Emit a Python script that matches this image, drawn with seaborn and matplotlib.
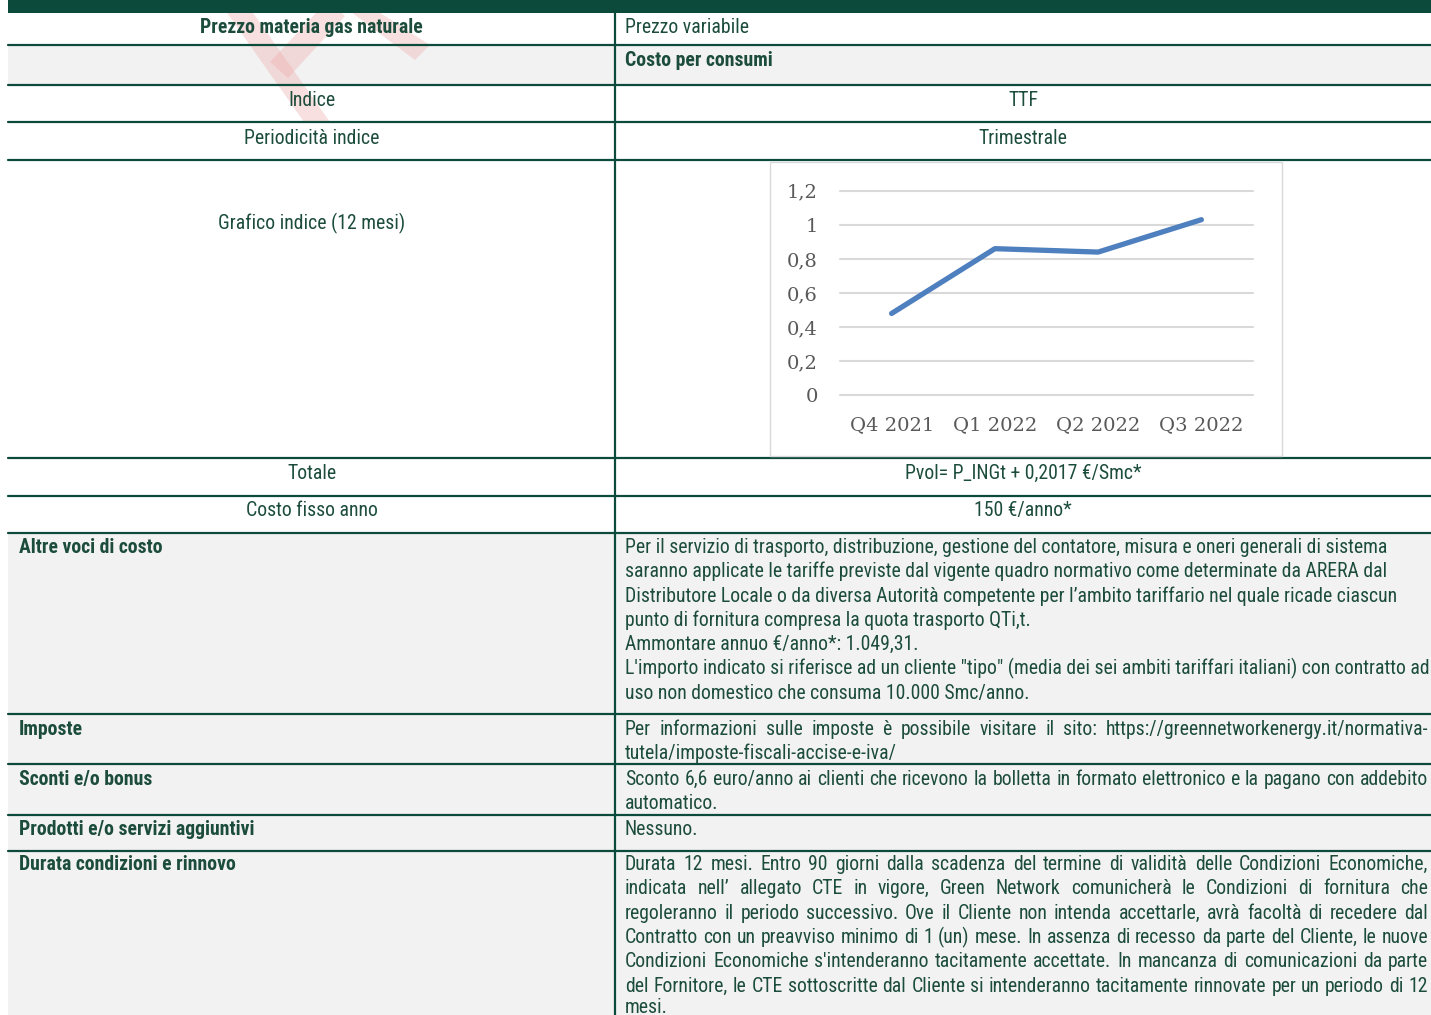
import matplotlib
matplotlib.use("Agg")
import matplotlib.pyplot as plt
from matplotlib import font_manager as fm
from matplotlib.patches import Rectangle, Polygon
import seaborn as sns
import pandas as pd

# index chart (TTF, quarterly)
quarters = ["Q4 2021", "Q1 2022", "Q2 2022", "Q3 2022"]
ttf_values = [0.48, 0.86, 0.84, 1.03]
y_ticks = [0, 0.2, 0.4, 0.6, 0.8, 1.0, 1.2]
y_tick_labels = ["0", "0,2", "0,4", "0,6", "0,8", "1", "1,2"]

# table text
centre_left = ["Indice", "Periodicità indice", "Grafico indice (12 mesi)", "Totale", "Costo fisso anno"]
centre_right = ["TTF", "Trimestrale", "", "Pvol= P_INGt + 0,2017 €/Smc*", "150 €/anno*"]
bold_left = ["Altre voci di costo", "Imposte", "Sconti e/o bonus",
             "Prodotti e/o servizi aggiuntivi", "Durata condizioni e rinnovo"]
altre_voci = [
    "Per il servizio di trasporto, distribuzione, gestione del contatore, misura e oneri generali di sistema",
    "saranno applicate le tariffe previste dal vigente quadro normativo come determinate da ARERA dal",
    "Distributore Locale o da diversa Autorità competente per l’ambito tariffario nel quale ricade ciascun",
    "punto di fornitura compresa la quota trasporto QTi,t.",
    "Ammontare annuo €/anno*: 1.049,31.",
    "L'importo indicato si riferisce ad un cliente \"tipo\" (media dei sei ambiti tariffari italiani) con contratto ad",
    "uso non domestico che consuma 10.000 Smc/anno.",
]
imposte = [
    "Per informazioni sulle imposte è possibile visitare il sito: https://greennetworkenergy.it/normativa-",
    "tutela/imposte-fiscali-accise-e-iva/",
]
sconti = [
    "Sconto 6,6 euro/anno ai clienti che ricevono la bolletta in formato elettronico e la pagano con addebito",
    "automatico.",
]
prodotti = ["Nessuno."]
durata = [
    "Durata 12 mesi. Entro 90 giorni dalla scadenza del termine di validità delle Condizioni Economiche,",
    "indicata nell’ allegato CTE in vigore, Green Network comunicherà le Condizioni di fornitura che",
    "regoleranno il periodo successivo. Ove il Cliente non intenda accettarle, avrà facoltà di recedere dal",
    "Contratto con un preavviso minimo di 1 (un) mese. In assenza di recesso da parte del Cliente, le nuove",
    "Condizioni Economiche s'intenderanno tacitamente accettate. In mancanza di comunicazioni da parte",
    "del Fornitore, le CTE sottoscritte dal Cliente si intenderanno tacitamente rinnovate per un periodo di 12",
    "mesi.",
]

sns.set_style("white")

# narrow sans like the original, if there is one
available = {f.name for f in fm.fontManager.ttflist}
FAMILY = 'Liberation Sans'
for fam in ['Liberation Sans Narrow', 'Roboto Condensed', 'PT Sans Narrow', 'Archivo Narrow', 'Liberation Sans']:
    if fam in available:
        FAMILY = fam
        break
plt.rcParams['font.family'] = [FAMILY, 'Liberation Sans', 'DejaVu Sans']

W, H = 1431, 1015
GREEN = '#0c4a3b'
TEXT = '#1c4c3b'
GRAY = '#f2f2f2'
X0, XM, X1 = 8, 615, 1431
LEFT_PAD, RIGHT_X, RIGHT_END = 19, 625, 1428
LINE = 24.3

fig = plt.figure(figsize=(W / 100, H / 100), dpi=100)
base = fig.add_axes([0, 0, 1, 1])
base.set_xlim(0, W)
base.set_ylim(H, 0)
base.axis('off')
renderer = fig.canvas.get_renderer()

# size the font so the first "Altre voci" line spans what it does in the original
probe = base.text(0, 0, altre_voci[0], fontsize=10)
FS = 10 * 757 / probe.get_window_extent(renderer).width
FS = min(FS, 14.5)
probe.remove()

row_edges = [13, 45, 85, 122, 160, 458, 496, 533, 714, 764, 815, 851, 1015]
row_fill = ['white', GRAY, 'white', 'white', 'white', 'white', 'white', GRAY, GRAY, GRAY, GRAY, GRAY]
for i, fc in enumerate(row_fill):
    base.add_patch(Rectangle((X0, row_edges[i]), X1 - X0, row_edges[i + 1] - row_edges[i],
                             fc=fc, ec='none', zorder=0))

# faint red watermark
for pts in [[(218, 0), (244, 0), (330, 122), (304, 122)],
            [(270, 62), (288, 78), (345, 16), (328, 0)],
            [(335, 0), (360, 0), (430, 45), (415, 60)]]:
    base.add_patch(Polygon(pts, closed=True, fc='#f0a8a8', ec='none', alpha=0.35, zorder=1))

for y in row_edges[1:-1]:
    base.plot([X0, X1], [y, y], color=GREEN, lw=1.6, zorder=3)
base.plot([XM, XM], [13, H], color=GREEN, lw=1.6, zorder=3)
base.add_patch(Rectangle((X0, 0), X1 - X0, 13, fc=GREEN, ec='none', zorder=4))

# chart frame
base.add_patch(Rectangle((770, 162), 512, 294, fc='white', ec='#d9d9d9', lw=1, zorder=5))


def put(x, y, s, ha='left', bold=False):
    return base.text(x, y, s, ha=ha, va='baseline', fontsize=FS, color=TEXT,
                     fontweight='bold' if bold else 'normal', zorder=6)


def justify(y, line):
    words = line.split(' ')
    texts = [put(0, y, w) for w in words]
    widths = [t.get_window_extent(renderer).width for t in texts]
    gap = (RIGHT_END - RIGHT_X - sum(widths)) / (len(words) - 1)
    x = RIGHT_X
    for t, w in zip(texts, widths):
        t.set_x(x)
        x += w + gap


def paragraph(y0, lines, just_count=0):
    for i, line in enumerate(lines):
        y = y0 + i * LINE
        if i < just_count:
            justify(y, line)
        else:
            put(RIGHT_X, y, line)


put((X0 + XM) / 2, 33, "Prezzo materia gas naturale", ha='center', bold=True)
put(RIGHT_X, 33, "Prezzo variabile")
put(RIGHT_X, 66, "Costo per consumi", bold=True)

centre_y = [106, 144, 229, 479, 516]
for lab, val, y in zip(centre_left, centre_right, centre_y):
    put((X0 + XM) / 2, y, lab, ha='center')
    if val:
        put((XM + X1) / 2, y, val, ha='center')

bold_y = [553, 735, 785, 835, 870]
for lab, y in zip(bold_left, bold_y):
    put(LEFT_PAD, y, lab, bold=True)

paragraph(553, altre_voci)
paragraph(735, imposte, 1)
paragraph(785, sconti, 1)
paragraph(835, prodotti)
paragraph(870, durata[:-1], 6)
# last line runs into the page edge in the original
put(RIGHT_X, 1013, durata[-1])

# index chart
ax = fig.add_axes([840 / W, 1 - 395.3 / H, 413 / W, 204.6 / H])
df = pd.DataFrame({'quarter': quarters, 'ttf': ttf_values})
sns.lineplot(data=df, x='quarter', y='ttf', ax=ax, color='#4e7fbe', linewidth=3.8,
             sort=False, solid_capstyle='round', solid_joinstyle='round')
ax.set_xlim(-0.5, 3.5)
ax.set_ylim(0, 1.2)
ax.set_yticks(y_ticks, y_tick_labels)
ax.grid(axis='y', color='#d9d9d9', lw=1.5)
ax.grid(axis='x', visible=False)
ax.set_axisbelow(True)
for l in ax.get_ygridlines():
    l.set_clip_on(False)
for sp in ax.spines.values():
    sp.set_visible(False)
ax.patch.set_alpha(0)
ax.set_xlabel('')
ax.set_ylabel('')
ax.tick_params(axis='y', length=0, labelsize=14, colors='#595959', pad=16)
ax.tick_params(axis='x', length=0, labelsize=14, colors='#595959', pad=15)
for lab in ax.get_xticklabels() + ax.get_yticklabels():
    lab.set_fontfamily('DejaVu Serif')

fig.savefig("out.png", dpi=100)
